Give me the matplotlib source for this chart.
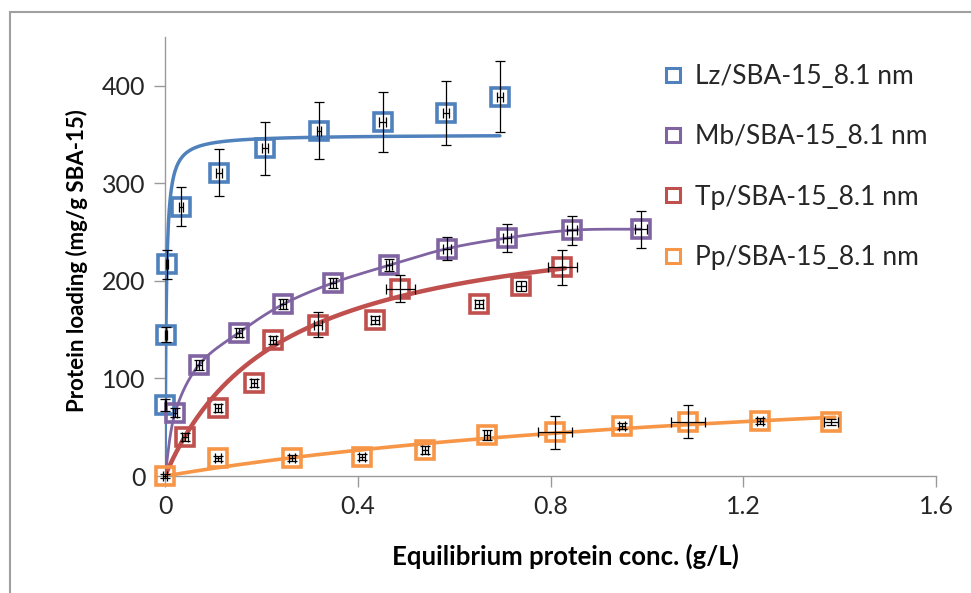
import numpy as np
import matplotlib
matplotlib.use('Agg')
import matplotlib.pyplot as plt
from matplotlib.patches import Rectangle
from matplotlib.lines import Line2D

plt.rcParams['font.family'] = ['Lato', 'DejaVu Sans']

# ---------------- data ----------------
names = ['Lz/SBA-15_8.1 nm', 'Mb/SBA-15_8.1 nm', 'Tp/SBA-15_8.1 nm', 'Pp/SBA-15_8.1 nm']
colors = ['#4F81BD', '#8064A2', '#C0504D', '#F79646']

lz_x = [0.001, 0.002, 0.004, 0.033, 0.112, 0.207, 0.320, 0.452, 0.583, 0.695]
lz_y = [73, 145, 217, 276, 311, 336, 354, 363, 372, 389]
lz_yerr = [6, 8, 15, 20, 24, 27, 29, 31, 33, 36]
lz_xerr = [0.002, 0.002, 0.002, 0.004, 0.006, 0.006, 0.004, 0.007, 0.007, 0.006]

mb_x = [0.021, 0.0705, 0.1535, 0.245, 0.349, 0.465, 0.585, 0.710, 0.845, 0.988]
mb_y = [65, 114, 147, 176, 198, 216, 233, 244, 252, 253]
mb_yerr = [5, 5, 5, 5, 5, 6, 12, 14, 15, 19]
mb_xerr = [0.004, 0.006, 0.006, 0.006, 0.006, 0.006, 0.008, 0.008, 0.01, 0.012]

tp_x = [0.0415, 0.110, 0.185, 0.224, 0.3175, 0.436, 0.488, 0.652, 0.739, 0.824]
tp_y = [40, 70, 95, 139, 155, 160, 192, 176, 195, 214]
tp_yerr = [4, 4, 4, 4, 13, 4, 14, 4, 5, 18]
tp_xerr = [0.006, 0.006, 0.006, 0.006, 0.008, 0.008, 0.03, 0.008, 0.01, 0.03]

pp_x = [0.0, 0.110, 0.263, 0.409, 0.540, 0.668, 0.809, 0.948, 1.085, 1.235, 1.382]
pp_y = [0, 18, 18.5, 19.5, 27, 42, 45, 51, 55.5, 56.5, 55.5]
pp_yerr = [2, 3, 3, 3, 4, 5, 17, 3, 17, 3, 3]
pp_xerr = [0.004, 0.006, 0.006, 0.006, 0.006, 0.006, 0.035, 0.006, 0.035, 0.006, 0.015]

# Langmuir fit parameters (qmax, K, end of curve)
lz_fit = (350.0, 400.0, 0.695)
tp_fit = (274.0, 4.2, 0.83)
pp_fit = (125.0, 0.67, 1.39)
# Mb line is an Excel-style smoothed line through the points, starting at the origin
mb_line_start = (0.0, 0.0)

x_ticks = [0, 0.4, 0.8, 1.2, 1.6]
x_ticklabels = ['0', '0.4', '0.8', '1.2', '1.6']
y_ticks = [0, 100, 200, 300, 400]

# ---------------- helpers ----------------
def langmuir(p):
    qmax, K, cend = p
    c = np.linspace(0, cend, 400)
    return c, qmax * K * c / (1 + K * c)

def smooth_line(xs, ys, n=30):
    P = np.column_stack([xs, ys]).astype(float)
    out = [P[0]]
    for i in range(len(P) - 1):
        p0 = P[i - 1] if i > 0 else P[i]
        p1 = P[i]
        p2 = P[i + 1]
        p3 = P[i + 2] if i + 2 < len(P) else P[i + 1]
        c1 = p1 + (p2 - p0) / 6.0
        c2 = p2 - (p3 - p1) / 6.0
        t = np.linspace(0, 1, n)[1:, None]
        seg = ((1 - t) ** 3) * p1 + 3 * ((1 - t) ** 2) * t * c1 + 3 * (1 - t) * t ** 2 * c2 + t ** 3 * p2
        out.extend(seg)
    out = np.array(out)
    return out[:, 0], out[:, 1]

# ---------------- figure ----------------
W, H = 971, 593
fig = plt.figure(figsize=(W / 100, H / 100), dpi=100)
fig.patch.set_facecolor('white')
fig.patches.append(Rectangle((10 / W, -0.1), 1.2, 1.1 - 12 / H, transform=fig.transFigure,
                             fill=False, edgecolor='#a0a0a0', linewidth=1.5, zorder=0))

ax = fig.add_axes([165 / W, 1 - 476 / H, (936 - 165) / W, (476 - 37) / H])
ax.set_xlim(0, 1.6)
ax.set_ylim(0, 450)

ms, mew = 13.5, 2.6
series = [
    (lz_x, lz_y, lz_xerr, lz_yerr),
    (mb_x, mb_y, mb_xerr, mb_yerr),
    (tp_x, tp_y, tp_xerr, tp_yerr),
    (pp_x, pp_y, pp_xerr, pp_yerr),
]
line_w = [2.5, 2.0, 3.2, 2.6]

# lines
c, q = langmuir(lz_fit)
ax.plot(c, q, color=colors[0], lw=line_w[0], zorder=3, solid_capstyle='round')
sx, sy = smooth_line([mb_line_start[0]] + mb_x, [mb_line_start[1]] + mb_y)
ax.plot(sx, sy, color=colors[1], lw=line_w[1], zorder=3, solid_capstyle='round')
c, q = langmuir(tp_fit)
ax.plot(c, q, color=colors[2], lw=line_w[2], zorder=3, solid_capstyle='round')
c, q = langmuir(pp_fit)
ax.plot(c, q, color=colors[3], lw=line_w[3], zorder=3, solid_capstyle='round')

for i, (xs, ys, xe, ye) in enumerate(series):
    ax.plot(xs, ys, ls='none', marker='s', ms=ms, mfc='none', mec=colors[i], mew=mew,
            zorder=4 + i * 0.1, clip_on=False)
    ax.errorbar(xs, ys, xerr=xe, yerr=ye, fmt='none', ecolor='black', elinewidth=0.9,
                capsize=3.5, capthick=0.9, zorder=5, clip_on=False)

# axes styling
for s in ['top', 'right']:
    ax.spines[s].set_visible(False)
for s in ['left', 'bottom']:
    ax.spines[s].set_color('#9a9a9a')
    ax.spines[s].set_linewidth(1.0)
ax.set_xticks(x_ticks)
ax.set_xticklabels(x_ticklabels)
ax.set_yticks(y_ticks)
ax.tick_params(axis='both', direction='out', length=8, width=1.0, color='#9a9a9a',
               labelsize=18, labelcolor='#262626', pad=6)
ax.set_xlabel('Equilibrium protein conc. (g/L)', fontsize=18.5, fontweight='bold', labelpad=18)
ax.xaxis.label.set_x(0.519)
ax.set_ylabel('Protein loading (mg/g SBA-15)', fontsize=16, fontweight='bold', labelpad=10)
ax.yaxis.label.set_y(0.49)

handles = [Line2D([], [], ls='none', marker='s', ms=10.5, mfc='none', mec=col, mew=2.2)
           for col in colors]
leg = ax.legend(handles, names, loc='upper left', bbox_to_anchor=(662 / W, 1 - 64 / H),
                bbox_transform=fig.transFigure, frameon=False, fontsize=19,
                handlelength=0.8, handletextpad=0.45, labelspacing=1.34, borderpad=0,
                borderaxespad=0)
for t in leg.get_texts():
    t.set_color('#262626')

fig.savefig('out.png', dpi=100)
